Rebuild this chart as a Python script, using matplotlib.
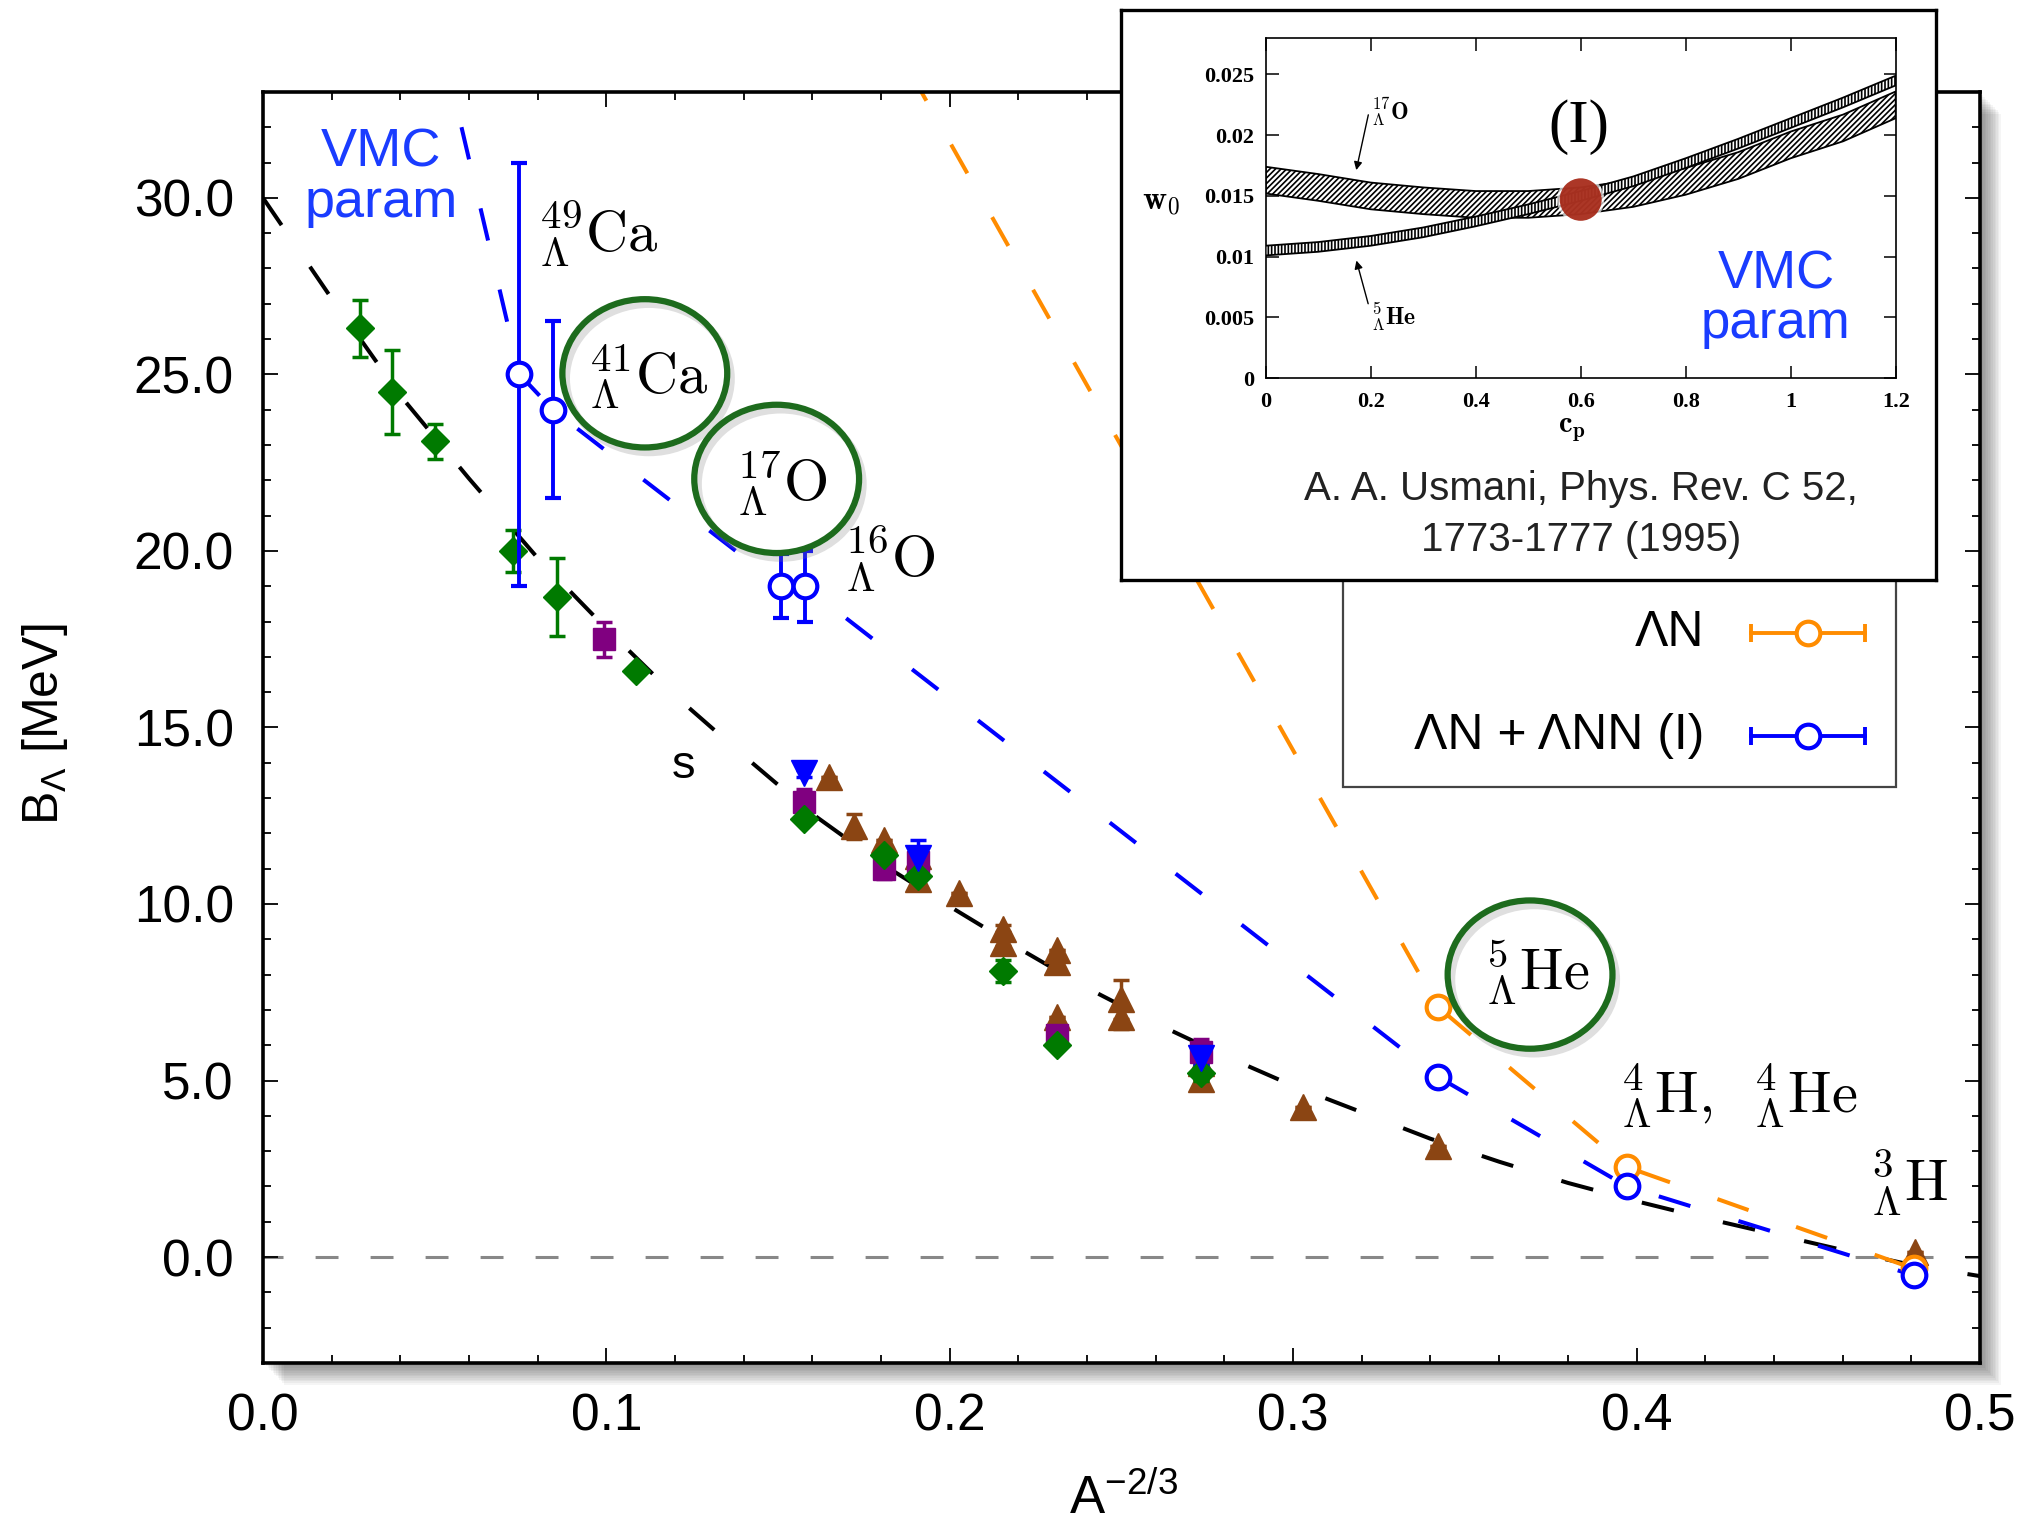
import matplotlib
matplotlib.use('Agg')
import matplotlib.pyplot as plt
from matplotlib.patches import Ellipse, Rectangle
from matplotlib.ticker import MultipleLocator, FormatStrFormatter

plt.rcParams['font.family'] = ['Liberation Sans', 'DejaVu Sans']
plt.rcParams['mathtext.fontset'] = 'custom'
plt.rcParams['mathtext.rm'] = 'Liberation Sans'
plt.rcParams['mathtext.it'] = 'Liberation Sans:italic'
plt.rcParams['mathtext.bf'] = 'Liberation Sans:bold'
plt.rcParams['hatch.linewidth'] = 1.2

# ---- main panel data: B_Lambda vs A^-2/3 ----
# experimental values
green_x = [0.0283, 0.0375, 0.0501, 0.0729, 0.0856, 0.1086, 0.1575, 0.1810, 0.1908, 0.2154, 0.2311, 0.2733]
green_y = [26.3, 24.5, 23.1, 20.0, 18.7, 16.6, 12.4, 11.4, 10.8, 8.1, 6.0, 5.2]
green_err = [0.8, 1.2, 0.5, 0.6, 1.1, 0.0, 0.1, 0.1, 0.1, 0.3, 0.1, 0.2]

purple_x = [0.0993, 0.1575, 0.1810, 0.1908, 0.2311, 0.2733]
purple_y = [17.5, 12.9, 11.0, 11.2, 6.3, 5.8]
purple_err = [0.5, 0.35, 0.3, 0.3, 0.2, 0.38]

brown_x = [0.1647, 0.1722, 0.1810, 0.1908, 0.1908, 0.2027, 0.2154, 0.2154, 0.2311, 0.2311,
           0.2311, 0.2500, 0.2500, 0.2733, 0.2733, 0.3029, 0.3422, 0.4810]
brown_y = [13.6, 12.2, 11.8, 11.35, 10.7, 10.3, 9.3, 8.9, 8.7, 8.35,
           6.8, 7.3, 6.8, 5.5, 5.05, 4.25, 3.15, 0.15]
brown_err = [0, 0.35, 0, 0, 0, 0, 0.1, 0.1, 0, 0,
             0, 0.55, 0.35, 0, 0, 0, 0, 0]

bluev_x = [0.1577, 0.1909, 0.2733]
bluev_y = [13.7, 11.3, 5.65]
bluev_err = [0.1, 0.5, 0.2]

# smooth black dashed curve
fit_x = [0.00, 0.02, 0.04, 0.06, 0.08, 0.10, 0.12, 0.14, 0.16, 0.18, 0.20, 0.22, 0.24,
         0.26, 0.28, 0.30, 0.32, 0.34, 0.36, 0.38, 0.40, 0.42, 0.44, 0.46, 0.48, 0.50]
fit_y = [30.0, 27.15, 24.4, 22.05, 19.8, 17.8, 15.9, 14.2, 12.55, 11.15, 9.93, 8.75, 7.62,
         6.62, 5.70, 4.85, 4.10, 3.35, 2.70, 2.10, 1.58, 1.10, 0.65, 0.20, -0.22, -0.54]

# VMC results
ann_x = [0.3422, 0.3972, 0.4808]          # Lambda N
ann_y = [7.08, 2.55, -0.3]
ann_err = [0.1, 0.1, 0.1]
ann_curve_x = [0.1575, 0.3422, 0.3972, 0.4808]
ann_curve_y = [38.9, 7.08, 2.55, -0.33]

vmc_x = [0.0747, 0.0844, 0.1510, 0.1578, 0.3422, 0.3972, 0.4808]   # Lambda N + Lambda NN (I)
vmc_y = [25.0, 24.0, 19.0, 19.0, 5.1, 2.0, -0.52]
vmc_err = [6.0, 2.5, 0.9, 1.0, 0.1, 0.1, 0.1]
vmc_curve_x = [0.0501, 0.0747, 0.0844, 0.1510, 0.1578, 0.3422, 0.3972, 0.4808]
vmc_curve_y = [35.2, 25.0, 24.0, 19.0, 19.0, 5.1, 2.0, -0.52]

# ---- inset data: w0 vs cp bands ----
cp = [0.0, 0.1, 0.2, 0.3, 0.4, 0.5, 0.6, 0.7, 0.8, 0.9, 1.0, 1.1, 1.2]
o17_hi = [0.0174, 0.0168, 0.0161, 0.0157, 0.0154, 0.0154, 0.0157, 0.0163, 0.0173, 0.0186, 0.0203, 0.0217, 0.0236]
o17_lo = [0.0152, 0.0146, 0.0139, 0.0135, 0.0132, 0.0132, 0.0135, 0.0141, 0.0151, 0.0164, 0.0181, 0.0195, 0.0214]
he5_hi = [0.0109, 0.0112, 0.0117, 0.0124, 0.0133, 0.0143, 0.0154, 0.0166, 0.0181, 0.0197, 0.0214, 0.0231, 0.0249]
he5_lo = [0.0101, 0.0104, 0.0109, 0.0116, 0.0125, 0.0135, 0.0146, 0.0158, 0.0173, 0.0189, 0.0206, 0.0223, 0.0241]
cp_ticks = [0, 0.2, 0.4, 0.6, 0.8, 1.0, 1.2]
cp_labels = ['0', '0.2', '0.4', '0.6', '0.8', '1', '1.2']
w0_ticks = [0, 0.005, 0.01, 0.015, 0.02, 0.025]
w0_labels = ['0', '0.005', '0.01', '0.015', '0.02', '0.025']

GREEN = '#007a00'
PURPLE = '#800080'
BROWN = '#8b4513'
BLUE = '#0000ff'
ORANGE = '#ff8c00'
CIRC = '#1d6b1d'

fig = plt.figure(figsize=(20.29, 15.22), dpi=100)
ax_rect = [0.1296, 0.1045, 0.8462, 0.8351]
ax = fig.add_axes(ax_rect)

# soft drop shadow behind the main frame
for i in range(1, 14):
    fig.patches.append(Rectangle((ax_rect[0] + i * 0.0008, ax_rect[1] - i * 0.0011),
                                 ax_rect[2], ax_rect[3], transform=fig.transFigure,
                                 facecolor='black', edgecolor='none', alpha=0.04, zorder=-5))

ax.set_xlim(0, 0.5)
ax.set_ylim(-3, 33)
ax.axhline(0, color='#888888', lw=2.2, ls=(0.95, (7.5, 10.5)), zorder=1)

ax.plot(fit_x, fit_y, color='black', lw=2.9, ls=(0, (8.2, 12.5)), zorder=2)
ax.plot(vmc_curve_x, vmc_curve_y, color=BLUE, lw=2.9, ls=(12.6, (8.2, 12.5)), zorder=2)
ax.plot(ann_curve_x, ann_curve_y, color=ORANGE, lw=2.9, ls=(20.6, (8.2, 12.5)), zorder=2)

ebkw = dict(capsize=6, elinewidth=2.5, capthick=2.5, linestyle='none')
ax.errorbar(brown_x, brown_y, yerr=brown_err, fmt='^', color=BROWN, ms=19, zorder=3, **ebkw)
ax.errorbar(purple_x, purple_y, yerr=purple_err, fmt='s', color=PURPLE, ms=16.5, zorder=4, **ebkw)
ax.errorbar(green_x, green_y, yerr=green_err, fmt='D', color=GREEN, ms=14.5, zorder=5, **ebkw)
ax.errorbar(bluev_x, bluev_y, yerr=bluev_err, fmt='v', color=BLUE, ms=19, zorder=5, **ebkw)

ckw = dict(fmt='o', ms=17, mfc='white', mew=3, capsize=6, elinewidth=2.8, capthick=2.8,
           linestyle='none', zorder=6)
ax.errorbar(ann_x, ann_y, yerr=ann_err, color=ORANGE, **ckw)
ax.errorbar(vmc_x, vmc_y, yerr=vmc_err, color=BLUE, **ckw)

# axes styling
for s in ax.spines.values():
    s.set_linewidth(2.6)
ax.xaxis.set_major_locator(MultipleLocator(0.1))
ax.xaxis.set_minor_locator(MultipleLocator(0.02))
ax.yaxis.set_major_locator(MultipleLocator(5))
ax.yaxis.set_minor_locator(MultipleLocator(1))
ax.xaxis.set_major_formatter(FormatStrFormatter('%.1f'))
ax.yaxis.set_major_formatter(FormatStrFormatter('%.1f'))
ax.tick_params(which='both', direction='in', top=True, right=True, width=1.3, labelsize=37)
ax.tick_params(which='major', length=11, pad=21)
ax.tick_params(which='minor', length=5.5)

fig.text(0.0222, 0.524, r'B$_{\Lambda}$ [MeV]', rotation=90, ha='center', va='center', fontsize=36)
fig.text(0.5535, 0.005, r'A$^{\mathrm{-2/3}}$', ha='center', va='baseline', fontsize=38)

# nuclide labels
nkw = dict(fontsize=42, math_fontfamily='cm', ha='left', va='baseline', zorder=7)
ax.text(0.0801, 28.45, r'$^{49}_{\Lambda}\mathrm{Ca}$', **nkw)
ax.text(0.0948, 24.45, r'$^{41}_{\Lambda}\mathrm{Ca}$', **nkw)
ax.text(0.1379, 21.4, r'$^{17}_{\Lambda}\mathrm{O}$', **nkw)
ax.text(0.1691, 19.25, r'$^{16}_{\Lambda}\mathrm{O}$', **nkw)
ax.text(0.3559, 7.55, r'$^{5}_{\Lambda}\mathrm{He}$', **nkw)
ax.text(0.3952, 4.07, r'$^{4}_{\Lambda}\mathrm{H},\;\;{}^{4}_{\Lambda}\mathrm{He}$', **nkw)
ax.text(0.4679, 1.57, r'$^{3}_{\Lambda}\mathrm{H}$', **nkw)

for cx, cy in [(0.1112, 25.03), (0.1496, 22.04), (0.3690, 8.0)]:
    ax.add_patch(Ellipse((cx + 0.0012, cy - 0.15), 0.048, 4.2, fill=False, edgecolor='gray',
                         lw=5, alpha=0.25, zorder=6))
    ax.add_patch(Ellipse((cx, cy), 0.048, 4.2, fill=False, edgecolor=CIRC, lw=4.5, zorder=7))

ax.text(0.1224, 13.9, 's', fontsize=34, ha='center', va='center', zorder=7)
ax.text(0.0345, 30.88, 'VMC', color='#1a3cff', fontsize=39, ha='center', va='baseline', zorder=7)
ax.text(0.0345, 29.45, 'param', color='#1a3cff', fontsize=39, ha='center', va='baseline', zorder=7)

# legend (lower part visible below the inset)
ax.add_patch(Rectangle((0.6289, 0.4528), 0.3221, 0.18, transform=ax.transAxes,
                       facecolor='white', edgecolor='#444444', lw=1.6, zorder=8))
for yy, col, lab in [(0.574, ORANGE, 'ΛN'), (0.4932, BLUE, 'ΛN + ΛNN (I)')]:
    ax.text(0.8397, yy, lab, transform=ax.transAxes, fontsize=36, ha='right', va='center', zorder=9)
    ax.plot([0.8666, 0.933], [yy, yy], transform=ax.transAxes, color=col, lw=2.8, zorder=9)
    ax.plot([0.8666, 0.933], [yy, yy], transform=ax.transAxes, color=col, ls='none',
            marker='|', ms=13, mew=2.8, zorder=9)
    ax.plot([0.8998], [yy], transform=ax.transAxes, color=col, marker='o', ms=17,
            mfc='white', mew=3, zorder=10)

# ---- inset ----
frame = fig.add_axes([0.5523, 0.6191, 0.4018, 0.3741], zorder=10)
frame.set_xticks([])
frame.set_yticks([])
frame.set_facecolor('white')
for s in frame.spines.values():
    s.set_linewidth(2.4)
frame.text(0.5647, 0.1593, 'A. A. Usmani, Phys. Rev. C 52,', transform=frame.transAxes,
           fontsize=29, ha='center', va='center', color='#222222')
frame.text(0.5647, 0.0704, '1773-1777 (1995)', transform=frame.transAxes,
           fontsize=29, ha='center', va='center', color='#222222')

inner = fig.add_axes([0.6238, 0.7516, 0.3105, 0.2234], zorder=11)
inner.set_xlim(0, 1.2)
inner.set_ylim(0, 0.028)
inner.fill_between(cp, o17_lo, o17_hi, facecolor='white', edgecolor='black', hatch='//////', lw=1.3, zorder=2)
inner.fill_between(cp, he5_lo, he5_hi, facecolor='white', edgecolor='black', hatch='|||||', lw=1.3, zorder=3)
inner.add_patch(Ellipse((0.6, 0.0147), 0.09, 0.0039, facecolor='white', alpha=0.7, edgecolor='none', zorder=4))
inner.add_patch(Ellipse((0.6, 0.0147), 0.08, 0.0035, facecolor='#a3210f', alpha=0.9, edgecolor='none', zorder=5))

inner.set_xticks(cp_ticks)
inner.set_xticklabels(cp_labels)
inner.set_yticks(w0_ticks)
inner.set_yticklabels(w0_labels)
for s in inner.spines.values():
    s.set_linewidth(1.2)
inner.tick_params(direction='in', top=True, right=True, length=9, width=1.1, labelsize=16)
inner.tick_params(axis='x', pad=10)
inner.tick_params(axis='y', pad=8)
for lab in inner.get_xticklabels() + inner.get_yticklabels():
    lab.set_fontfamily('Liberation Serif')
    lab.set_fontweight('bold')

inner.text(-0.166, 0.515, r'$\mathbf{w_0}$', transform=inner.transAxes, fontsize=24,
           math_fontfamily='cm', ha='center', va='center')
inner.text(0.486, -0.15, r'$\mathbf{c_p}$', transform=inner.transAxes, fontsize=22,
           math_fontfamily='cm', ha='center', va='center')
inner.text(0.597, 0.0207, '(I)', fontsize=44, family='Liberation Serif', ha='center', va='center')
inner.text(0.200, 0.0213, r'$^{17}_{\Lambda}\mathbf{O}$', fontsize=17, math_fontfamily='cm',
           ha='left', va='baseline')
inner.text(0.200, 0.0044, r'$^{5}_{\Lambda}\mathbf{He}$', fontsize=17, math_fontfamily='cm',
           ha='left', va='baseline')
inner.annotate('', xy=(0.1714, 0.0169), xytext=(0.1966, 0.0219),
               arrowprops=dict(arrowstyle='-|>', color='black', lw=1.0, mutation_scale=12))
inner.annotate('', xy=(0.1714, 0.0099), xytext=(0.1966, 0.0059),
               arrowprops=dict(arrowstyle='-|>', color='black', lw=1.0, mutation_scale=12))
inner.text(0.972, 0.0074, 'VMC', color='#1a3cff', fontsize=38, ha='center', va='baseline')
inner.text(0.972, 0.0033, 'param', color='#1a3cff', fontsize=38, ha='center', va='baseline')

fig.savefig('out.png', dpi=100)
